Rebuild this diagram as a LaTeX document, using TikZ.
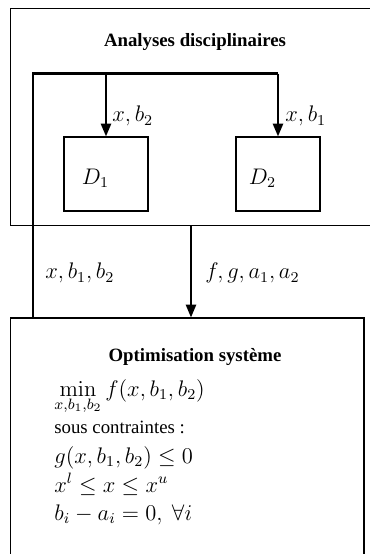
\documentclass[tikz,border=0pt]{standalone}
\usepackage[no-math]{fontspec}
\setmainfont{Liberation Serif}
\usetikzlibrary{arrows.meta,fit}
% formulas are set a little larger than the surrounding text
\newcommand\fml[1]{{\fontsize{12}{14.4}\selectfont$#1$}}
\begin{document}
\begin{tikzpicture}[x=0.532pt,y=-0.532pt,
  frame/.style={draw, line width=0.6pt, inner sep=0pt},
  disc/.style={frame, minimum width=44.7pt, minimum height=39.4pt},
  wire/.style={line width=1.1pt},
  flow/.style={wire, -{Triangle[length=6.8pt,width=5.4pt]}},
  lbl/.style={inner sep=0pt, font=\normalsize},
  line/.style={anchor=base west, inner sep=0pt}]
\useasboundingbox (0,0) rectangle (370,554);
\clip (0,0) rectangle (370,554);

% corners of the two outer blocks
\coordinate (anaTL) at (10.5,8.5);
\coordinate (anaBR) at (380,225.5);
\coordinate (optTL) at (10.5,318);
\coordinate (optBR) at (364,570);

% disciplinary analyses block
\node[frame, fit=(anaTL)(anaBR)] (ana) {};
\node[lbl, font=\bfseries] (anatitle) at (195,42) {Analyses disciplinaires};

% disciplines
\node[disc] (d1) at (106,174) {};
\node[disc] (d2) at (278,174) {};
\node[lbl] (d1lbl) at (95.5,178) {\fml{D_1}};
\node[lbl] (d2lbl) at (262.5,178) {\fml{D_2}};

% system optimisation block
\node[frame, fit=(optTL)(optBR)] (opt) {};
\node[lbl, font=\bfseries] (opttitle) at (195,357) {Optimisation système};
\node[line] (l1) at (54,396) {\fml{\min\limits_{x,b_1,b_2} f(x,b_1,b_2)}};
\node[line] (l2) at (54,433) {sous contraintes :};
\node[line] (l3) at (54,463) {\fml{g(x,b_1,b_2) \leq 0}};
\node[line] (l4) at (54,492) {\fml{x^l \leq x \leq x^u}};
\node[line] (l5) at (54,520) {\fml{b_i - a_i = 0,\ \forall i}};

% coupling variables distributed to the disciplines
\coordinate (bl) at (33,73.5);
\coordinate (bm) at (d1.north |- bl);
\coordinate (br) at (d2.north |- bl);
\draw[wire] (opt.north -| bl) -- (bl) -- (br);
\draw[flow] (bm) -- (d1.north);
\draw[flow] (br) -- (d2.north);
\node[lbl, anchor=west] (lx2) at (112,116) {\fml{x, b_2}};
\node[lbl, anchor=west] (lx1) at (285,116) {\fml{x, b_1}};

% responses back to the optimiser
\coordinate (mid) at (191,0);
\draw[flow] (ana.south -| mid) -- (opt.north -| mid);
\node[lbl, anchor=west] (lresp) at (205,273) {\fml{f, g, a_1, a_2}};
\node[lbl, anchor=west] (ldes) at (45,273) {\fml{x, b_1, b_2}};
\end{tikzpicture}
\end{document}
